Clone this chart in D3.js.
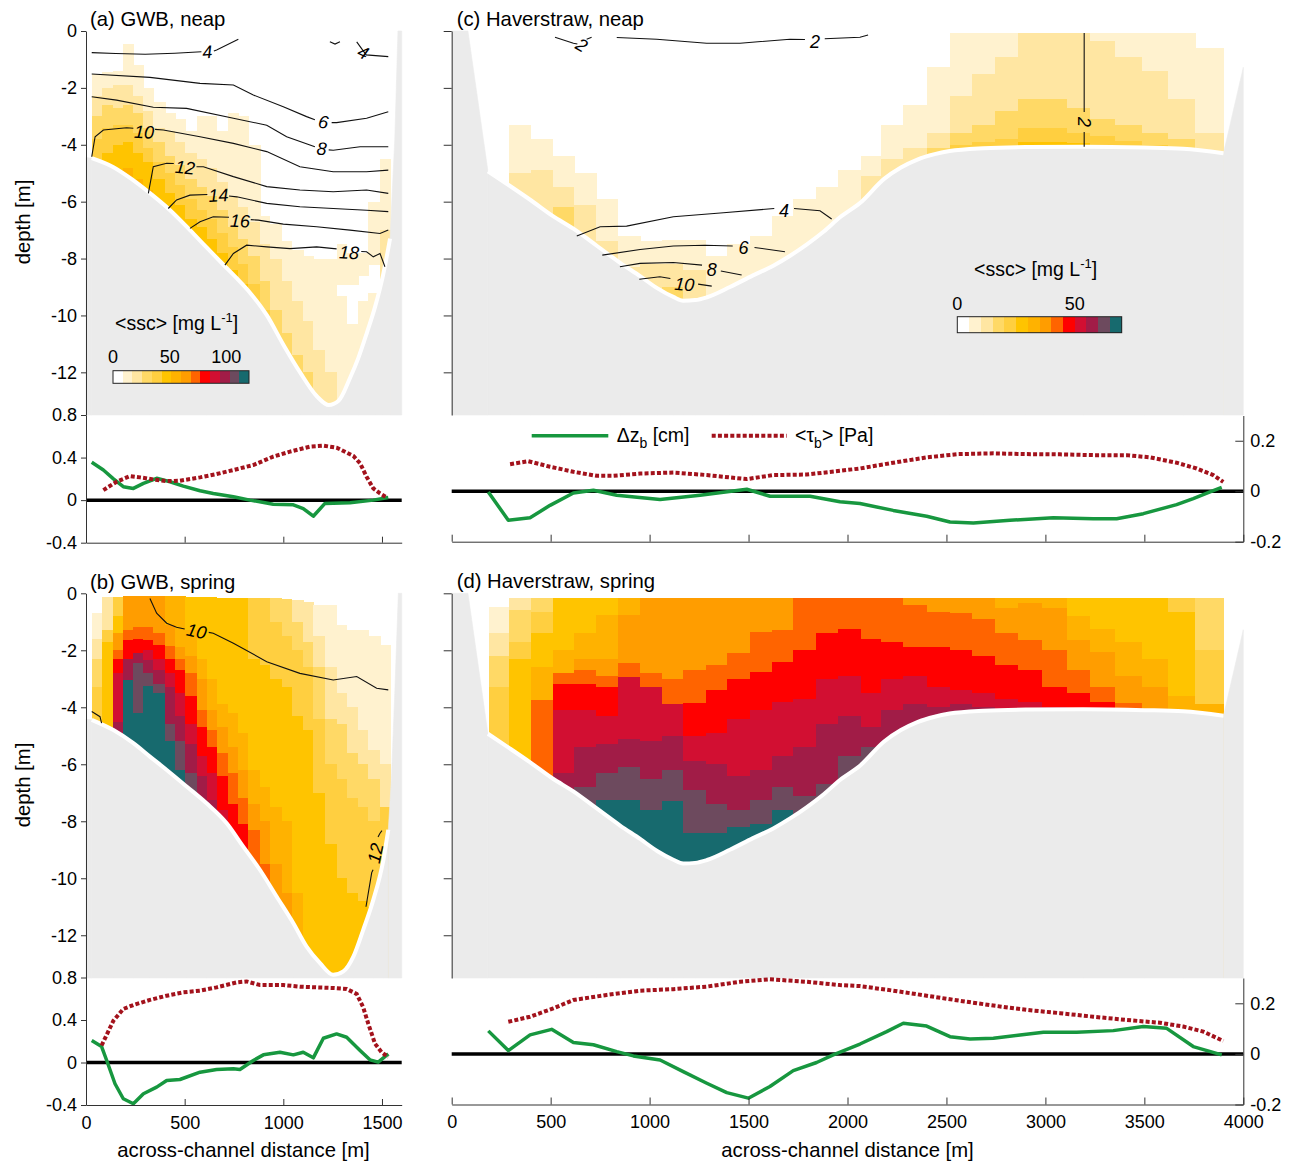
<!DOCTYPE html>
<html><head><meta charset="utf-8">
<script src="https://cdn.jsdelivr.net/npm/d3@7"></script>
<style>body{margin:0;background:#fff}svg text{font-family:"Liberation Sans",Arial,Helvetica,sans-serif}</style>
</head><body><svg id="fig" width="1295" height="1163"></svg>
<script>
// ---------------- DATA ----------------
const levelColors = ["#ffffff","#fff2cf","#ffe6a2","#ffd966","#ffcf40","#ffc400","#ffb200","#ff9d00","#ff6400","#ff0000","#d20f32","#a11c47","#6d4a5e","#176a6e"];
const depthTicks = [0,-2,-4,-6,-8,-10,-12];
const lineTicksL = [0.8,0.4,0,-0.4];
const lineTicksR = [0.2,0,-0.2];
const gwbXTicks = [0,500,1000,1500];
const havXTicks = [0,500,1000,1500,2000,2500,3000,3500,4000];
const cbTicksGWB = [0,50,100];
const cbTicksHav = [0,50];
const cbMaxGWB = 120, cbMaxHav = 70;

// column edges (m)
const gwbEdges = [29,79,139,189,240,291,341,400,451,502,561,611,662,721,772,823,882,932,992,1042,1101,1152,1211,1270,1321,1380,1431,1490,1541];
const havEdges = [190,291,399,510,619,729,839,951,1061,1170,1284,1393,1508,1617,1727,1840,1954,2066,2170,2282,2400,2517,2628,2746,2863,2981,3108,3225,3352,3487,3621,3756,3899];

// ssc class runs per column: [class, top depth m]
const cellsA = [
 [[1,1.5],[2,2.3],[3,3.0],[4,3.8]],
 [[1,1.45],[2,2.0],[3,2.6],[4,3.4],[5,4.3]],
 [[1,1.4],[2,1.9],[3,2.7],[4,3.3],[5,4.0],[6,4.9]],
 [[1,0.45],[2,1.9],[3,2.6],[4,3.3],[5,3.9],[6,4.8]],
 [[1,1.2],[2,2.3],[3,2.9],[4,3.6],[5,4.3],[6,5.2]],
 [[1,2.0],[2,2.8],[3,3.4],[4,4.1],[5,4.6],[6,5.6]],
 [[1,2.5],[2,3.4],[3,3.9],[4,4.6],[5,5.2]],
 [[1,2.9],[2,3.5],[3,4.4],[4,5.0],[5,5.7]],
 [[1,3.1],[2,3.9],[3,4.7],[4,5.4],[5,6.1]],
 [[1,3.5],[2,4.3],[3,5.2],[4,5.9],[5,6.6]],
 [[1,3.0],[2,4.5],[3,5.5],[4,6.3],[5,6.9]],
 [[1,3.0],[2,4.8],[3,5.8],[4,6.6],[5,7.3]],
 [[1,3.5],[2,5.3],[3,6.3],[4,7.1],[5,7.8]],
 [[1,2.9],[2,5.8],[3,6.9],[4,7.6],[5,8.4]],
 [[1,3.0],[2,6.2],[3,7.3],[4,8.2],[5,8.9]],
 [[1,4.0],[2,6.7],[3,7.9],[4,8.9]],
 [[1,6.5],[2,7.5],[3,8.8],[4,9.8]],
 [[1,6.8],[2,8.0],[3,9.8]],
 [[1,7.4],[2,8.8],[3,10.6]],
 [[1,7.7],[2,9.5],[3,11.4]],
 [[1,7.9],[2,10.2],[3,12.0]],
 [[1,8.0],[2,11.2]],
 [[1,8.0],[2,12.0]],
 [[1,7.5],[0,8.9],[1,9.3]],
 [[1,7.8],[0,8.9],[1,10.3]],
 [[1,7.8],[0,8.6],[1,9.5]],
 [[1,6.0],[0,8.2],[1,9.2]],
 [[1,4.5],[2,7.0]]
];
const cellsB = [
 [[1,0.7],[2,1.6],[3,2.3],[4,3.3]],
 [[2,0.12],[4,1.3],[5,1.7]],
 [[4,0.12],[5,0.8],[7,1.4],[8,2.0],[9,2.3],[10,2.8],[11,4.5]],
 [[7,0.1],[8,1.3],[9,1.65],[11,2.3],[13,3.05]],
 [[7,0.1],[8,1.2],[9,1.6],[11,2.1],[12,2.45],[13,4.2]],
 [[7,0.1],[8,1.2],[9,1.64],[10,2.0],[11,2.35],[12,2.8],[13,3.27]],
 [[7,0.1],[8,1.4],[9,1.8],[10,2.3],[11,2.7],[12,3.2],[13,3.5]],
 [[6,0.1],[7,1.1],[8,1.85],[9,2.3],[10,2.8],[11,3.3],[12,4.6],[13,5.2]],
 [[6,0.1],[7,1.9],[8,2.3],[9,2.7],[10,3.5],[11,4.3],[12,5.2],[13,6.2]],
 [[5,0.12],[6,1.3],[7,2.2],[8,2.8],[9,3.6],[10,4.6],[11,5.3],[12,6.3],[13,7.0]],
 [[5,0.12],[6,2.3],[7,3.0],[8,4.1],[9,4.7],[10,5.7],[11,6.4],[12,7.3]],
 [[5,0.12],[6,3.0],[7,4.1],[8,4.8],[9,5.4],[10,6.3],[11,7.25]],
 [[5,0.15],[6,3.9],[7,4.7],[8,5.6],[9,6.4],[10,7.6]],
 [[5,0.15],[6,4.2],[7,5.4],[8,6.3],[9,7.4],[10,8.6]],
 [[5,0.15],[6,4.9],[7,6.2],[8,7.2],[9,8.1]],
 [[4,0.15],[5,2.3],[6,6.2],[7,7.4],[8,8.3]],
 [[4,0.15],[5,2.5],[6,6.8],[7,8.0],[8,9.5]],
 [[3,0.15],[4,1.0],[5,3.0],[6,7.5],[7,9.5]],
 [[3,0.2],[4,1.5],[5,3.3],[6,8.0],[7,10.5]],
 [[2,0.25],[3,1.0],[4,2.0],[5,4.3],[6,10.5]],
 [[2,0.3],[3,1.7],[4,2.6],[5,4.8]],
 [[1,0.4],[2,1.5],[3,2.6],[4,4.4],[5,7.0]],
 [[1,0.4],[2,2.6],[3,4.4],[4,6.0],[5,8.8]],
 [[1,1.1],[2,3.5],[3,4.6],[4,6.5],[5,10.0]],
 [[1,1.3],[2,4.0],[3,5.6],[4,7.2],[5,10.5]],
 [[1,1.3],[2,4.8],[3,6.0],[4,7.5],[5,10.8]],
 [[1,1.5],[2,5.5],[3,6.5],[4,8.0],[5,11.0]],
 [[1,1.8],[2,6.0],[4,7.5]]
];
const cellsC = [
 [],
 [[1,3.3],[2,5.0]],
 [[1,3.8],[2,4.9]],
 [[1,4.4],[2,5.5],[3,6.2]],
 [[1,5.0],[2,6.1]],
 [[1,5.9],[2,7.4]],
 [[1,7.2],[2,8.3]],
 [[1,7.4],[2,8.2]],
 [[1,7.35],[2,8.2],[3,9.0]],
 [[1,7.35],[2,8.4]],
 [[1,7.9]],
 [[1,7.5]],
 [[1,7.2]],
 [[1,6.5]],
 [[1,5.9]],
 [[1,5.5]],
 [[1,4.9]],
 [[1,4.4],[2,5.1]],
 [[1,3.3],[2,4.5]],
 [[1,2.6],[2,4.1]],
 [[1,1.25],[2,3.6],[3,4.1]],
 [[1,0.08],[2,2.3],[3,3.6],[4,4.0]],
 [[1,0.08],[2,1.5],[3,3.3],[4,3.9]],
 [[1,0.08],[2,0.9],[3,2.8],[4,3.8]],
 [[2,0.08],[3,2.4],[4,3.4],[5,3.9]],
 [[2,0.08],[3,2.4],[4,3.4],[5,3.9]],
 [[2,0.08],[3,2.7],[4,3.6],[5,3.95]],
 [[1,0.08],[2,0.35],[3,3.1],[4,3.7]],
 [[1,0.08],[2,0.9],[3,3.3],[4,3.85]],
 [[1,0.08],[2,1.4],[3,3.6],[4,4.0]],
 [[1,0.08],[2,2.4],[3,3.8]],
 [[1,0.6],[2,3.6]]
];
const cellsD = [
 [[1,0.47],[2,1.4],[3,2.2],[4,3.3]],
 [[2,0.18],[3,0.6],[4,1.7],[5,2.3]],
 [[3,0.18],[4,0.65],[5,1.4],[6,2.6],[8,3.75]],
 [[5,0.18],[6,2.0],[8,2.8],[9,3.2],[10,4.1],[11,6.3]],
 [[5,0.18],[6,1.4],[7,2.3],[8,2.7],[9,3.2],[10,4.1],[11,5.4],[12,6.8]],
 [[5,0.18],[6,0.76],[7,2.3],[8,2.9],[9,3.3],[10,4.3],[11,5.3],[12,6.3],[13,7.25]],
 [[6,0.18],[7,0.76],[8,2.45],[10,2.95],[11,5.1],[12,6.1],[13,7.25]],
 [[7,0.18],[8,2.8],[10,3.3],[11,5.2],[12,6.5],[13,7.6]],
 [[7,0.18],[8,3.0],[10,3.9],[11,5.0],[12,6.2],[13,7.3]],
 [[7,0.18],[8,2.7],[9,3.85],[10,5.0],[11,5.9],[12,6.9],[13,8.4]],
 [[7,0.18],[8,2.5],[9,3.4],[10,4.9],[11,6.0],[12,7.4],[13,8.4]],
 [[7,0.18],[8,2.1],[9,3.0],[10,4.4],[11,6.4],[12,7.6],[13,8.2]],
 [[7,0.18],[8,1.35],[9,2.75],[10,4.1],[11,6.2],[12,7.25],[13,8.1]],
 [[7,0.18],[8,1.3],[9,2.4],[10,3.8],[11,5.7],[12,6.8],[13,7.6]],
 [[8,0.18],[9,2.0],[10,3.7],[11,5.4],[12,7.1]],
 [[8,0.18],[9,1.4],[10,3.0],[11,4.6],[12,6.7]],
 [[8,0.18],[9,1.25],[10,2.9],[11,4.3],[12,5.7]],
 [[8,0.18],[9,1.6],[10,3.5],[11,4.7],[12,5.4]],
 [[8,0.18],[9,1.7],[10,3.0],[11,4.1]],
 [[7,0.18],[8,0.4],[9,1.9],[10,2.9],[11,3.9]],
 [[7,0.18],[8,0.65],[9,1.9],[10,3.3],[11,4.0]],
 [[7,0.18],[8,0.7],[9,2.0],[10,3.4],[11,3.9]],
 [[7,0.18],[8,0.9],[9,2.2],[10,3.5],[11,4.0]],
 [[6,0.18],[7,0.5],[8,1.4],[9,2.5],[10,3.7]],
 [[6,0.18],[7,0.35],[8,1.65],[9,2.7],[10,3.8]],
 [[6,0.18],[7,0.5],[8,2.0],[9,3.3],[10,4.0]],
 [[5,0.18],[6,0.8],[7,1.65],[8,2.7],[9,3.5]],
 [[5,0.18],[6,1.25],[7,2.05],[8,3.3],[9,3.8]],
 [[5,0.18],[6,1.7],[7,2.9],[8,3.85]],
 [[5,0.18],[6,2.3],[7,3.3]],
 [[4,0.18],[5,0.65],[6,3.6]],
 [[3,0.18],[4,2.0],[6,3.9]]
];

// bathymetry: [distance m, depth m]
const gwbNeapBottom = [[29,4.47],[137,4.78],[230,5.2],[324,5.7],[426,6.3],[527,7.0],[610,7.6],[694,8.2],[765,8.7],[831,9.2],[917,10.0],[998,11.0],[1085,12.0],[1171,12.85],[1230,13.15],[1280,13.0],[1338,12.2],[1380,11.5],[1424,10.6],[1465,9.7],[1505,8.6],[1541,7.3]];
const gwbNeapBankL = [[0,4.45]];
const gwbNeapBankR = [[1565,3.8],[1581,0],[1600,0]];
const gwbSpringBottom = [[29,4.44],[139,4.8],[240,5.26],[324,5.73],[409,6.2],[510,6.78],[611,7.37],[713,8.07],[797,8.89],[882,9.71],[966,10.64],[1051,11.58],[1118,12.4],[1186,12.98],[1253,13.39],[1304,13.27],[1355,12.75],[1405,11.81],[1456,10.76],[1507,9.36],[1532,8.3]];
const gwbSpringBankL = [[0,4.42]];
const gwbSpringBankR = [[1548,6.5],[1565,3.5],[1583,0],[1600,0]];
const havBottom = [[183,4.93],[295,5.45],[400,5.95],[510,6.5],[615,6.95],[733,7.55],[851,8.15],[952,8.62],[1040,9.05],[1120,9.35],[1170,9.48],[1230,9.46],[1290,9.36],[1406,9.0],[1520,8.6],[1625,8.25],[1710,7.9],[1795,7.5],[1880,7.05],[1962,6.55],[2063,6.05],[2185,5.2],[2270,4.8],[2353,4.52],[2440,4.33],[2516,4.22],[2686,4.12],[2900,4.08],[3191,4.07],[3500,4.1],[3696,4.14],[3900,4.3]];
const havBankL = [[0,0],[82,0]];
const havBankR = [[4000,1.28]];

// contour lines [distance, depth]
const contoursA = [
 [[29,0.76],[150,0.79],[300,0.82],[450,0.78],[585,0.727]],
 [[648,0.70],[662,0.668],[772,0.293]],
 [[1236,0.38],[1262,0.46],[1287,0.38]],
 [[1372,0.38],[1420,0.84],[1532,0.9]],
 [[29,1.51],[324,1.63],[578,1.84],[747,1.90],[848,2.25],[1000,2.66],[1118,3.01],[1160,3.12]],
 [[1245,3.22],[1270,3.22],[1422,3.07],[1532,2.84]],
 [[29,2.31],[155,2.43],[341,2.68],[510,2.72],[747,3.07],[916,3.31],[1017,3.72],[1135,4.01],[1160,4.07]],
 [[1230,4.18],[1253,4.19],[1389,4.07],[1532,4.07]],
 [[29,4.42],[46,3.72],[88,3.48],[206,3.40],[240,3.42]],
 [[350,3.46],[392,3.48],[578,3.72],[747,3.95],[916,4.24],[1084,4.77],[1253,4.95],[1422,4.95],[1532,4.89]],
 [[316,5.71],[341,4.77],[409,4.65],[445,4.66]],
 [[560,4.77],[595,4.77],[747,5.12],[916,5.47],[1084,5.59],[1253,5.65],[1422,5.59],[1532,5.71]],
 [[417,6.24],[459,5.94],[527,5.77],[615,5.75]],
 [[725,5.8],[764,5.83],[916,6.06],[1084,6.18],[1253,6.24],[1422,6.30],[1532,6.35]],
 [[527,6.94],[578,6.71],[645,6.53],[725,6.55]],
 [[835,6.63],[873,6.65],[1000,6.79],[1169,6.88],[1338,7.0],[1490,7.12],[1532,7.0]],
 [[704,8.23],[747,7.82],[814,7.53],[916,7.59],[1034,7.65],[1169,7.59],[1270,7.66]],
 [[1395,7.75],[1422,7.76],[1456,7.94],[1490,7.82],[1515,8.29]]
];
const contourLabelsA = [["4",615,0.73,-4],["6",1203,3.19,8],["8",1194,4.13,4],["10",294,3.54,3],["12",502,4.79,6],["14",671,5.77,-3],["16",780,6.67,2],["18",1334,7.78,3],["4",1405,0.75,25]];
const contoursB = [
 [[324,0.18],[358,0.70],[409,1.05],[459,1.19],[500,1.25]],
 [[622,1.37],[645,1.40],[747,1.75],[916,2.40],[1084,2.81],[1253,3.04],[1372,2.92],[1473,3.33],[1532,3.39]],
 [[29,4.15],[71,4.33],[79,4.56]],
 [[1500,8.33],[1490,8.42],[1480,8.55]],
 [[1455,9.7],[1448,9.8],[1419,11.0]]
];
const contourLabelsB = [["10",561,1.32,12],["12",1466,9.12,-78]];
const contoursC = [
 [[522,0.22],[615,0.43],[635,0.46]],
 [[682,0.29],[707,0.22]],
 [[834,0.23],[1036,0.29],[1288,0.43],[1457,0.43],[1709,0.29],[1785,0.3]],
 [[1885,0.27],[2063,0.22],[2104,0.14]],
 [[3196,0.07],[3196,2.85]],
 [[3196,3.55],[3196,4.07]],
 [[632,7.21],[750,6.88],[884,6.86],[1120,6.53],[1373,6.39],[1630,6.24]],
 [[1730,6.24],[1861,6.32],[1920,6.61]],
 [[761,7.88],[952,7.68],[1120,7.56],[1280,7.53],[1420,7.56]],
 [[1530,7.61],[1684,7.76]],
 [[850,8.29],[952,8.17],[1120,8.14],[1265,8.23]],
 [[1360,8.44],[1465,8.58]],
 [[948,8.73],[1052,8.64],[1105,8.7]],
 [[1245,8.9],[1314,8.97]]
];
const contourLabelsC = [["2",657,0.49,30],["2",1836,0.375,0],["2",3196,3.2,90],["4",1679,6.30,0],["6",1474,7.61,0],["8",1314,8.38,0],["10",1176,8.90,5]];

// bed-level change (cm) and bed stress (Pa): [distance m, value]
const dzA = [[29,0.356],[88,0.283],[139,0.20],[189,0.126],[240,0.11],[291,0.157],[358,0.205],[426,0.173],[493,0.132],[578,0.088],[645,0.063],[747,0.031],[831,0.0],[949,-0.038],[1051,-0.044],[1101,-0.079],[1152,-0.151],[1211,-0.031],[1338,-0.025],[1456,0.0],[1532,0.025]];
const tauA = [[88,0.094],[155,0.173],[223,0.226],[274,0.214],[341,0.195],[409,0.179],[476,0.182],[578,0.214],[662,0.245],[747,0.283],[848,0.33],[949,0.409],[1034,0.456],[1135,0.503],[1203,0.512],[1270,0.493],[1355,0.415],[1389,0.346],[1422,0.22],[1456,0.11],[1490,0.063],[1524,0.025]];
const dzB = [[29,0.207],[79,0.15],[105,0.019],[147,-0.2],[189,-0.341],[240,-0.388],[291,-0.294],[358,-0.232],[409,-0.169],[476,-0.16],[578,-0.091],[662,-0.066],[747,-0.059],[780,-0.066],[848,0.019],[899,0.072],[983,0.097],[1051,0.072],[1101,0.097],[1152,0.044],[1203,0.228],[1270,0.269],[1321,0.238],[1389,0.113],[1439,0.025],[1481,0.003],[1532,0.082]];
const tauB = [[79,0.16],[139,0.394],[189,0.504],[240,0.541],[324,0.589],[409,0.629],[493,0.66],[578,0.676],[662,0.707],[764,0.754],[814,0.763],[882,0.729],[1000,0.729],[1084,0.714],[1169,0.707],[1253,0.701],[1321,0.692],[1372,0.645],[1405,0.519],[1431,0.363],[1465,0.176],[1498,0.097],[1532,0.05]];
const dzC = [[185,-0.003],[286,-0.115],[396,-0.105],[497,-0.056],[615,-0.007],[716,0.004],[834,-0.016],[1053,-0.033],[1255,-0.016],[1491,0.008],[1609,-0.02],[1811,-0.02],[1962,-0.042],[2063,-0.049],[2231,-0.076],[2400,-0.099],[2518,-0.122],[2636,-0.126],[2821,-0.115],[3040,-0.105],[3242,-0.109],[3360,-0.109],[3495,-0.089],[3663,-0.053],[3747,-0.029],[3832,-0.003],[3891,0.015]];
const tauC = [[295,0.107],[387,0.119],[497,0.097],[615,0.077],[733,0.061],[817,0.061],[952,0.07],[1120,0.074],[1289,0.064],[1491,0.048],[1625,0.064],[1794,0.066],[1962,0.081],[2063,0.09],[2231,0.113],[2400,0.134],[2558,0.147],[2737,0.15],[2905,0.147],[3074,0.146],[3242,0.143],[3411,0.143],[3529,0.134],[3663,0.113],[3764,0.09],[3848,0.064],[3899,0.037]];
const dzD = [[185,0.091],[286,0.013],[396,0.075],[505,0.097],[615,0.045],[716,0.036],[834,0.009],[918,-0.008],[1053,-0.024],[1170,-0.07],[1289,-0.116],[1390,-0.153],[1499,-0.175],[1608,-0.129],[1726,-0.066],[1844,-0.034],[1928,-0.004],[2063,0.039],[2198,0.088],[2282,0.121],[2400,0.11],[2518,0.068],[2619,0.059],[2737,0.062],[2872,0.075],[2990,0.086],[3158,0.086],[3343,0.092],[3495,0.108],[3613,0.101],[3747,0.029],[3891,-0.004]];
const tauD = [[286,0.127],[396,0.147],[513,0.18],[615,0.213],[783,0.233],[952,0.25],[1120,0.256],[1289,0.266],[1457,0.285],[1608,0.295],[1794,0.285],[1962,0.272],[2063,0.268],[2231,0.25],[2400,0.23],[2568,0.21],[2737,0.191],[2905,0.174],[3074,0.161],[3242,0.147],[3411,0.134],[3579,0.123],[3697,0.108],[3798,0.088],[3899,0.051]];

// ---------------- DRAWING ----------------
const svg = d3.select("#fig");
const GRAY = "#ebebeb", GREEN = "#17973f", RED = "#a3121c", AX = "#333";
const MAXD = 13.5, TICKFS = 18, LABFS = 20.3;
const color = d3.scaleOrdinal().domain(d3.range(levelColors.length)).range(levelColors);
const fmt = d => String(d);

const xL = d3.scaleLinear().domain([0,1600]).range([86,401.7]);
const xR = d3.scaleLinear().domain([0,4000]).range([451.7,1243.3]);
const yTop = d3.scaleLinear().domain([0,-MAXD]).range([31,415]);
const yBot = d3.scaleLinear().domain([0,-MAXD]).range([593.3,978]);
const yLA = d3.scaleLinear().domain([-0.4,0.8]).range([542.7,415]);
const yLB = d3.scaleLinear().domain([-0.4,0.8]).range([1105,977.5]);
const yLC = d3.scaleLinear().domain([-0.2,0.3]).range([541.7,415.5]);
const yLD = d3.scaleLinear().domain([-0.2,0.3]).range([1104.5,978]);

const defs = svg.append("defs");
let clipN = 0;
function clipFor(x, y) {
  const id = "clip" + (clipN++);
  defs.append("clipPath").attr("id", id).append("rect")
    .attr("x", x.range()[0]).attr("y", y(0)).attr("width", x.range()[1] - x.range()[0]).attr("height", y(-MAXD) - y(0));
  return "url(#" + id + ")";
}

function drawCells(x, y, edges, cols) {
  const cells = [];
  cols.forEach((runs, i) => runs.forEach((r, j) => {
    if (r[0] === 0) return;
    cells.push({x0: edges[i], x1: edges[i+1], top: r[1], bot: j + 1 < runs.length ? runs[j+1][1] : MAXD, lvl: r[0]});
  }));
  svg.append("g").attr("clip-path", clipFor(x, y)).attr("shape-rendering","crispEdges")
    .selectAll("rect").data(cells).join("rect")
    .attr("x", d => x(d.x0)).attr("width", d => x(d.x1) - x(d.x0) + 0.6)
    .attr("y", d => y(-d.top)).attr("height", d => y(-d.bot) - y(-d.top) + 0.6)
    .attr("fill", d => color(d.lvl));
}
function drawBathy(x, y, bottom, bankL, bankR) {
  const g = svg.append("g");
  const area = d3.area().curve(d3.curveMonotoneX).x(d => x(d[0])).y0(y(-MAXD)).y1(d => y(-d[1]));
  g.append("path").datum(bottom).attr("d", area).attr("fill", GRAY).attr("stroke", GRAY).attr("stroke-width", 0.5);
  const poly = pts => "M" + pts.map(p => x(p[0]) + "," + y(-p[1])).join("L") + "Z";
  const first = bottom[0], last = bottom[bottom.length - 1];
  const L = [[bankL[0][0], MAXD], ...bankL, first, [first[0], MAXD]];
  const R = [[last[0], MAXD], last, ...bankR, [bankR[bankR.length-1][0], MAXD]];
  g.append("path").attr("d", poly(L)).attr("fill", GRAY).attr("stroke", GRAY).attr("stroke-width", 0.6);
  g.append("path").attr("d", poly(R)).attr("fill", GRAY).attr("stroke", GRAY).attr("stroke-width", 0.6);
  g.append("path").datum(bottom)
    .attr("d", d3.line().curve(d3.curveMonotoneX).x(d => x(d[0])).y(d => y(-d[1])))
    .attr("fill","none").attr("stroke","#fff").attr("stroke-width",4);
}
function drawContours(x, y, lines, labels) {
  const g = svg.append("g");
  const line = d3.line().x(d => x(d[0])).y(d => y(-d[1]));
  g.selectAll("path").data(lines).join("path").attr("d", line)
    .attr("fill","none").attr("stroke","#111").attr("stroke-width",1.1);
  g.selectAll("text").data(labels).join("text")
    .attr("transform", d => `translate(${x(d[1])},${y(-d[2])}) rotate(${d[3]})`)
    .attr("text-anchor","middle").attr("dy","0.36em").attr("font-size",18).attr("font-style","italic")
    .text(d => d[0]);
}
function drawLines(x, y, dz, tau, x0, x1) {
  const g = svg.append("g");
  g.append("line").attr("x1", x(x0)).attr("x2", x(x1)).attr("y1", y(0)).attr("y2", y(0))
    .attr("stroke","#000").attr("stroke-width",3.5);
  const line = d3.line().x(d => x(d[0])).y(d => y(d[1]));
  g.append("path").datum(dz).attr("d", line).attr("fill","none").attr("stroke",GREEN).attr("stroke-width",3.5).attr("stroke-linejoin","round");
  g.append("path").datum(tau).attr("d", line).attr("fill","none").attr("stroke",RED).attr("stroke-width",4).attr("stroke-dasharray","4,2.2");
}
function styleAxis(sel) {
  sel.selectAll("path,line").attr("stroke", AX);
  sel.selectAll("text").attr("font-size", TICKFS).attr("fill", "#000");
  sel.attr("font-family", null).attr("font-size", null);
}
function colorbar(scale, max, y0, h, ticks, labelY, titleX, titleY) {
  const g = svg.append("g");
  const n = levelColors.length, step = max / n;
  g.selectAll("rect.seg").data(levelColors).join("rect").attr("class","seg")
    .attr("x", (d,i) => scale(i*step)).attr("width", scale(step) - scale(0) + 0.4)
    .attr("y", y0).attr("height", h).attr("fill", d => d).attr("shape-rendering","crispEdges");
  g.append("rect").attr("x", scale(0)).attr("y", y0).attr("width", scale(max) - scale(0)).attr("height", h)
    .attr("fill","none").attr("stroke","#222").attr("stroke-width",1);
  g.selectAll("text.tk").data(ticks).join("text").attr("class","tk")
    .attr("x", d => scale(d)).attr("y", labelY).attr("text-anchor","middle").attr("font-size",TICKFS).text(d => d);
  const t = g.append("text").attr("x", titleX).attr("y", titleY).attr("font-size",19.5);
  t.append("tspan").text("<ssc> [mg L");
  t.append("tspan").attr("dy",-8).attr("font-size",13).text("-1");
  t.append("tspan").attr("dy",8).text("]");
}

// panels: cells -> bathymetry -> contours
drawCells(xL, yTop, gwbEdges, cellsA);
drawBathy(xL, yTop, gwbNeapBottom, gwbNeapBankL, gwbNeapBankR);
drawContours(xL, yTop, contoursA, contourLabelsA);

drawCells(xL, yBot, gwbEdges, cellsB);
drawBathy(xL, yBot, gwbSpringBottom, gwbSpringBankL, gwbSpringBankR);
drawContours(xL, yBot, contoursB, contourLabelsB);

drawCells(xR, yTop, havEdges, cellsC);
drawBathy(xR, yTop, havBottom, havBankL, havBankR);
drawContours(xR, yTop, contoursC, contourLabelsC);

drawCells(xR, yBot, havEdges, cellsD);
drawBathy(xR, yBot, havBottom, havBankL, havBankR);

// line panels
drawLines(xL, yLA, dzA, tauA, 0, 1600);
drawLines(xL, yLB, dzB, tauB, 0, 1600);
drawLines(xR, yLC, dzC, tauC, 0, 4000);
drawLines(xR, yLD, dzD, tauD, 0, 4000);

// axes - left column
svg.append("g").attr("transform","translate(86,0)")
  .call(d3.axisLeft(yTop).tickValues(depthTicks).tickSize(5).tickSizeOuter(0).tickPadding(4).tickFormat(fmt)).call(styleAxis);
svg.append("g").attr("transform","translate(86,0)")
  .call(d3.axisLeft(yLA).tickValues(lineTicksL).tickSize(5).tickSizeOuter(0).tickPadding(4).tickFormat(fmt)).call(styleAxis);
svg.append("g").attr("transform","translate(0,542.7)")
  .call(d3.axisBottom(xL).tickValues(gwbXTicks).tickSize(-6).tickSizeOuter(0).tickFormat("")).call(styleAxis);
svg.append("g").attr("transform","translate(86,0)")
  .call(d3.axisLeft(yBot).tickValues(depthTicks).tickSize(5).tickSizeOuter(0).tickPadding(4).tickFormat(fmt)).call(styleAxis);
svg.append("g").attr("transform","translate(86,0)")
  .call(d3.axisLeft(yLB).tickValues(lineTicksL).tickSize(5).tickSizeOuter(0).tickPadding(4).tickFormat(fmt)).call(styleAxis);
svg.append("g").attr("transform","translate(0,1105)")
  .call(d3.axisBottom(xL).tickValues(gwbXTicks).tickSize(-6).tickSizeOuter(0).tickPadding(11).tickFormat(fmt)).call(styleAxis);

// axes - right column
svg.append("g").attr("transform","translate(451.7,0)")
  .call(d3.axisLeft(yTop).tickValues(depthTicks).tickSize(8).tickSizeOuter(0).tickFormat("")).call(styleAxis);
svg.append("g").attr("transform","translate(451.7,0)")
  .call(d3.axisLeft(yBot).tickValues(depthTicks).tickSize(8).tickSizeOuter(0).tickFormat("")).call(styleAxis);
svg.append("g").attr("transform","translate(0,541.7)")
  .call(d3.axisBottom(xR).tickValues(havXTicks).tickSize(-7).tickSizeOuter(0).tickFormat("")).call(styleAxis);
svg.append("g").attr("transform","translate(0,1104.5)")
  .call(d3.axisBottom(xR).tickValues(havXTicks).tickSize(-7).tickSizeOuter(0).tickPadding(11).tickFormat(fmt)).call(styleAxis);
svg.append("g").attr("transform","translate(1243.3,0)")
  .call(d3.axisRight(yLC).tickValues(lineTicksR).tickSize(-8).tickSizeOuter(0).tickPadding(7).tickFormat(fmt)).call(styleAxis);
svg.append("g").attr("transform","translate(1243.3,0)")
  .call(d3.axisRight(yLD).tickValues(lineTicksR).tickSize(-8).tickSizeOuter(0).tickPadding(7).tickFormat(fmt)).call(styleAxis);

// colorbars
colorbar(d3.scaleLinear().domain([0,cbMaxGWB]).range([113,249]), cbMaxGWB, 370.7, 12.6, cbTicksGWB, 363, 115, 330);
colorbar(d3.scaleLinear().domain([0,cbMaxHav]).range([957.3,1121.7]), cbMaxHav, 316.7, 16, cbTicksHav, 310, 974, 276);

// titles & axis labels
const titles = [["(a) GWB, neap",90,26],["(b) GWB, spring",90,589],["(c) Haverstraw, neap",456.7,26],["(d) Haverstraw, spring",456.7,588]];
svg.selectAll("text.ttl").data(titles).join("text").attr("class","ttl")
  .attr("x", d => d[1]).attr("y", d => d[2]).attr("font-size",LABFS).text(d => d[0]);
[222, 785].forEach(cy => svg.append("text").attr("transform", `translate(30,${cy}) rotate(-90)`)
  .attr("text-anchor","middle").attr("font-size",LABFS).text("depth [m]"));
[243.5, 847.5].forEach(cx => svg.append("text").attr("x", cx).attr("y", 1157)
  .attr("text-anchor","middle").attr("font-size",LABFS).text("across-channel distance [m]"));

// legend
const lg = svg.append("g");
lg.append("line").attr("x1",531.7).attr("x2",608.3).attr("y1",435.7).attr("y2",435.7).attr("stroke",GREEN).attr("stroke-width",3.5);
const t1 = lg.append("text").attr("x",616.7).attr("y",442).attr("font-size",19.5);
t1.append("tspan").text("\u0394z");
t1.append("tspan").attr("dy",6).attr("font-size",14).text("b");
t1.append("tspan").attr("dy",-6).text(" [cm]");
lg.append("line").attr("x1",711.7).attr("x2",786.7).attr("y1",435.7).attr("y2",435.7).attr("stroke",RED).attr("stroke-width",4).attr("stroke-dasharray","4,2.2");
const t2 = lg.append("text").attr("x",795).attr("y",442).attr("font-size",19.5);
t2.append("tspan").text("<\u03c4");
t2.append("tspan").attr("dy",6).attr("font-size",14).text("b");
t2.append("tspan").attr("dy",-6).text("> [Pa]");
</script></body></html>
